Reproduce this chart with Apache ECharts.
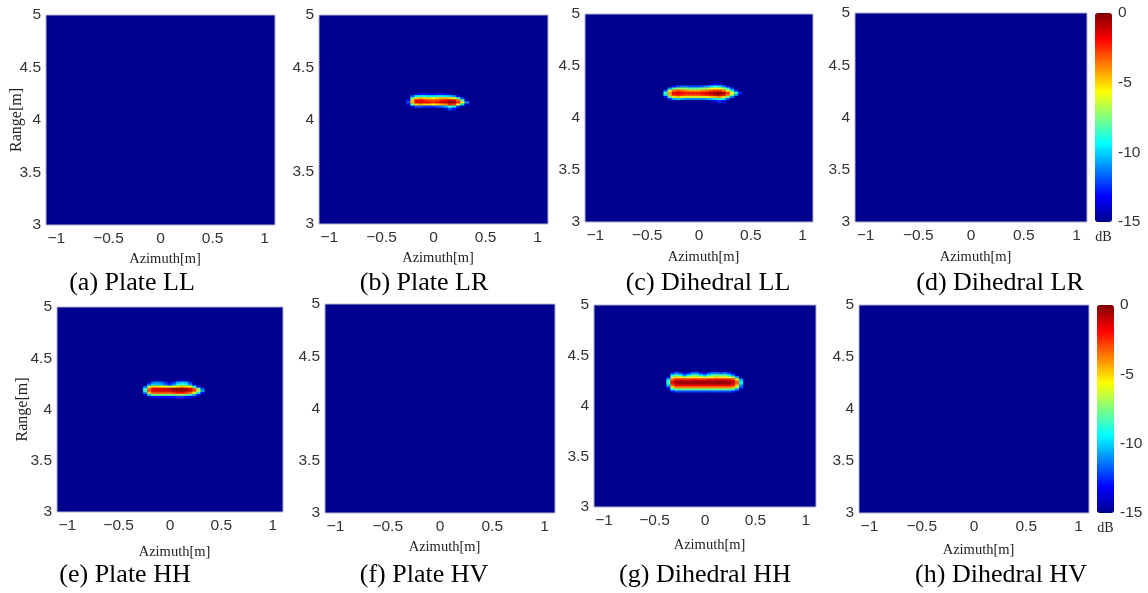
<!DOCTYPE html>
<html><head><meta charset="utf-8">
<script src="https://cdn.jsdelivr.net/npm/echarts@6/dist/echarts.min.js"></script>
<style>html,body{margin:0;padding:0;background:#fff}#c{width:1148px;height:593px}</style>
</head><body><div id="c"></div>
<script>
// ---------------- data ----------------
const azimuthTicks = [-1, -0.5, 0, 0.5, 1];
const rangeTicks = [3, 3.5, 4, 4.5, 5];
const dbTicks = [-15, -10, -5, 0];
const azimuthExtent = [-1.1, 1.1];
const rangeExtent = [3, 5];
const dbExtent = [-15, 0];
const backgroundDb = -30;

const captions = ['(a) Plate LL', '(b) Plate LR', '(c) Dihedral LL', '(d) Dihedral LR',
                  '(e) Plate HH', '(f) Plate HV', '(g) Dihedral HH', '(h) Dihedral HV'];

// (b) Plate LR
const plateLRAzimuth = [-0.24,-0.20,-0.16,-0.12,-0.08,-0.04,0.00,0.04,0.08,0.12,0.16,0.20,0.24,0.28,0.32];
const plateLRRange = [4.24,4.22,4.20,4.18,4.16,4.14,4.12,4.10];
const plateLRDb = [
  [-16,-16,-14,-13,-13,-13.5,-13.5,-13,-13,-13.5,-14,-15,-16,-16,-16],
  [-16,-12,-9.5,-9,-9,-9.5,-9.5,-9,-9,-9.5,-10,-11,-13,-15,-16],
  [-15,-8,-5,-4.5,-5,-5,-5.5,-5,-4.5,-4.5,-5,-6,-8,-12,-16],
  [-13,-5,-2,-2,-2.5,-3,-3,-3,-2.5,-2,-1,-1.5,-3.5,-8,-14],
  [-12,-4.5,-1.8,-1.5,-2,-2,-2.5,-2,-1.5,-1,-0.3,-0.5,-2.5,-6,-11],
  [-14,-8,-5,-4.5,-5,-5,-5.5,-5,-4.5,-4,-2.5,-3,-6,-10,-14],
  [-16,-13.5,-12,-12,-12.5,-12.5,-12.5,-12,-11.5,-10.5,-8.5,-9.5,-12.5,-15,-16],
  [-16,-16,-15,-15,-15,-15,-15,-15,-15,-14,-12,-13,-15,-16,-16]
];

// (c) Dihedral LL
const dihedralLLAzimuth = [-0.36,-0.32,-0.28,-0.24,-0.20,-0.16,-0.12,-0.08,-0.04,0.00,0.04,0.08,0.12,0.16,0.20,0.24,0.28,0.32,0.36,0.40,0.44];
const dihedralLLRange = [4.32,4.30,4.28,4.26,4.24,4.22,4.20,4.18,4.16];
const dihedralLLDb = [
  [-16,-16,-16,-16,-16,-16,-16,-16,-16,-16,-16,-15,-14,-13,-13.5,-15,-16,-16,-16,-16,-16],
  [-16,-16,-15,-13,-12,-11.5,-11.5,-12,-12,-12,-11.5,-11,-10,-9,-9.5,-11,-13,-15,-16,-16,-16],
  [-16,-15,-11,-8,-7,-7,-7.5,-8,-8,-8,-7.5,-7,-6,-5.5,-6,-7,-9,-12,-15,-16,-16],
  [-16,-12,-6.5,-3.5,-3,-3.5,-4,-4.5,-4.5,-4.5,-4,-3.5,-3,-2.5,-2.5,-3.5,-5.5,-9,-12.5,-15,-16],
  [-15,-8.5,-4,-1.8,-1.3,-1.8,-2.2,-2.2,-2.2,-2.2,-1.8,-1.3,-0.8,-0.4,-0.2,-0.7,-2.5,-5.5,-8.5,-12.5,-16],
  [-15,-9.5,-4.5,-2.2,-1.8,-2.2,-2.7,-2.7,-2.7,-2.7,-2.2,-1.8,-1.3,-0.8,-0.6,-1.3,-3.5,-7,-10.5,-14,-16],
  [-16,-13,-8,-5.5,-5,-5.5,-6,-6,-6,-6,-6,-5.5,-5,-4.5,-4,-5,-7.5,-11,-14.5,-16,-16],
  [-16,-15.5,-12.5,-10.5,-10,-10.5,-11,-11,-11,-11,-11,-10.5,-10,-9.5,-8.5,-9,-12,-15,-16,-16,-16],
  [-16,-16,-16,-15,-15,-15,-15,-15,-15,-15,-15,-15,-14.5,-14,-12.5,-13,-15,-16,-16,-16,-16]
];

// (e) Plate HH
const plateHHAzimuth = [-0.28,-0.24,-0.20,-0.16,-0.12,-0.08,-0.04,0.00,0.04,0.08,0.12,0.16,0.20,0.24,0.28,0.32,0.36];
const plateHHRange = [4.28,4.26,4.24,4.22,4.20,4.18,4.16,4.14,4.12];
const plateHHDb = [
  [-16,-16,-16,-15,-14.5,-15,-16,-16,-16,-14.5,-14,-14.5,-16,-16,-16,-16,-16],
  [-16,-16,-14,-11.5,-11,-11.5,-12.5,-14,-12.5,-10.5,-10,-10.5,-12.5,-15,-16,-16,-16],
  [-16,-15,-11.5,-10,-10,-10.5,-11.5,-12.5,-11,-9,-8.5,-9,-11,-14,-16,-16,-16],
  [-16,-12,-7,-5,-5,-5.5,-6,-6.5,-6,-5,-4.5,-5,-6,-9,-13,-16,-16],
  [-16,-9,-3.5,-1.8,-1.3,-1.3,-1.3,-0.9,-0.5,-0.3,-0.3,-0.5,-1.3,-3.5,-7.5,-12,-16],
  [-16,-8.5,-3,-1.3,-1.3,-1.3,-1.3,-0.9,-0.5,-0.3,-0.3,-0.5,-1.3,-2.8,-6.5,-10.5,-15],
  [-16,-11,-5,-3,-3,-3,-3,-3,-2.5,-2,-2,-2.5,-3.5,-5.5,-9,-13,-16],
  [-16,-14,-10,-7.5,-7.5,-7.5,-7.5,-7.5,-7.5,-7,-7,-7.5,-8.5,-10.5,-13,-16,-16],
  [-16,-16,-14.5,-13,-13,-13,-13,-13,-13,-12.5,-12.5,-13,-13.5,-14.5,-15.5,-16,-16]
];

// (g) Dihedral HH
const dihedralHHAzimuth = [-0.40,-0.36,-0.32,-0.28,-0.24,-0.20,-0.16,-0.12,-0.08,-0.04,0.00,0.04,0.08,0.12,0.16,0.20,0.24,0.28,0.32,0.36,0.40];
const dihedralHHRange = [4.34,4.32,4.30,4.28,4.26,4.24,4.22,4.20,4.18,4.16,4.14,4.12];
const dihedralHHDb = [
  [-16,-16,-15.5,-14.5,-15,-16,-15.5,-14.5,-14.5,-15.5,-16,-15,-14.5,-14.5,-15,-14.5,-15,-16,-16,-16,-16],
  [-16,-16,-12.5,-11,-12,-14,-12.5,-11,-11,-12.5,-14,-12,-11,-11,-11.5,-11,-12,-14,-16,-16,-16],
  [-16,-15,-9.5,-8,-9,-11,-9.5,-8,-8,-9.5,-10.5,-9,-8,-7.5,-8,-8,-9,-11,-14,-16,-16],
  [-16,-13,-6.5,-5,-5.5,-6.5,-6,-5.5,-5.5,-6,-6.5,-6,-5.5,-5,-5.5,-5.5,-6,-7,-10.5,-15,-16],
  [-16,-10,-3.5,-2.2,-2.2,-2.5,-2.5,-2.2,-2.2,-2.5,-2.5,-2.2,-2.2,-2.2,-2.2,-2.2,-2.2,-2.8,-5.5,-11,-16],
  [-15,-8.5,-2,-0.8,-0.5,-0.6,-0.6,-0.5,-0.5,-0.5,-0.6,-0.5,-0.5,-0.4,-0.4,-0.5,-0.6,-1.2,-3.5,-9.5,-15],
  [-15,-8.5,-2,-0.8,-0.5,-0.5,-0.5,-0.5,-0.5,-0.5,-0.5,-0.5,-0.5,-0.4,-0.4,-0.5,-0.6,-1.2,-3.5,-9.5,-15],
  [-16,-10,-3.5,-2,-1.8,-1.8,-1.8,-1.8,-1.8,-1.8,-1.8,-1.8,-1.8,-1.8,-1.8,-1.8,-2,-2.5,-5,-11,-16],
  [-16,-12.5,-6,-4,-4,-4,-4,-4,-4,-4,-4,-4,-4,-4,-4,-4,-4,-4.5,-7,-12,-16],
  [-16,-14.5,-9.5,-8,-8,-8,-8,-8,-8,-8,-8,-8,-8,-8,-8,-8,-8,-8.5,-11,-14.5,-16],
  [-16,-16,-13,-12,-12,-12,-12,-12,-12,-12,-12,-12,-12,-12,-12,-12,-12,-12.5,-14,-16,-16],
  [-16,-16,-15.5,-15,-15,-15,-15,-15,-15,-15,-15,-15,-15,-15,-15,-15,-15,-15.5,-16,-16,-16]
];

const panelBlobs = [
  null,
  {az: plateLRAzimuth, rg: plateLRRange, db: plateLRDb},
  {az: dihedralLLAzimuth, rg: dihedralLLRange, db: dihedralLLDb},
  null,
  {az: plateHHAzimuth, rg: plateHHRange, db: plateHHDb},
  null,
  {az: dihedralHHAzimuth, rg: dihedralHHRange, db: dihedralHHDb},
  null
];

// ---------------- layout / style ----------------
const jetColors = ['#00008F','#0000FF','#0080FF','#00FFFF','#80FF80','#FFFF00','#FF8000','#FF0000','#800000'];
const panels = [
  {left:46,  top:15,  width:229, height:210, nameGap:27, range:true, rangeGap:21, cap:[132,283]},
  {left:319, top:15,  width:229, height:209, nameGap:27, cap:[424,283]},
  {left:585, top:14,  width:228, height:208, nameGap:28, cap:[708,283]},
  {left:855, top:13,  width:232, height:209, nameGap:28, cap:[1000,283]},
  {left:57,  top:307, width:226, height:205, nameGap:33, range:true, rangeGap:26, cap:[125,575]},
  {left:325, top:304, width:230, height:209, nameGap:27, cap:[424,575]},
  {left:594, top:305, width:222, height:202, nameGap:31, cap:[705,575]},
  {left:859, top:305, width:230, height:208, nameGap:30, cap:[1001,575]}
];
const colorbars = [
  {left:1095, top:13, width:17, height:209},
  {left:1097, top:305, width:17, height:208}
];

const tickStyle = {fontFamily: "'Liberation Sans', Arial, sans-serif", fontSize: 15.5, color: '#333'};
const serif = "'Liberation Serif', 'Times New Roman', serif";
const fmt = v => (v < 0 ? '\u2212' + Math.abs(v) : String(v));
const fmtBar = v => String(v);
const clampDb = v => Math.max(dbExtent[0], Math.min(dbExtent[1], v));

function buildCells(blob) {
  const out = [[
    (azimuthExtent[0] + azimuthExtent[1]) / 2, (rangeExtent[0] + rangeExtent[1]) / 2,
    clampDb(backgroundDb), azimuthExtent[1] - azimuthExtent[0], rangeExtent[1] - rangeExtent[0]
  ]];
  if (blob) {
    const dx = Math.abs(blob.az[1] - blob.az[0]);
    const dy = Math.abs(blob.rg[1] - blob.rg[0]);
    blob.rg.forEach((r, i) => blob.az.forEach((a, j) => {
      out.push([a, r, clampDb(blob.db[i][j]), dx, dy]);
    }));
  }
  return out;
}

function renderCell(params, api) {
  const x = api.value(0), y = api.value(1), w = api.value(3), h = api.value(4);
  const p0 = api.coord([x - w / 2, y + h / 2]);
  const p1 = api.coord([x + w / 2, y - h / 2]);
  const color = api.visual('color');
  const bg = params.dataIndex === 0;
  return {
    type: 'rect',
    shape: {x: p0[0], y: p0[1], width: p1[0] - p0[0], height: p1[1] - p0[1]},
    style: {fill: color, stroke: bg ? '#b0b4cc' : color, lineWidth: bg ? 1 : 0.6}
  };
}

const grid = [], xAxis = [], yAxis = [], series = [], graphic = [];
panels.forEach((p, i) => {
  grid.push({left: p.left, top: p.top, width: p.width, height: p.height});
  xAxis.push({
    gridIndex: i, type: 'value', min: azimuthExtent[0], max: azimuthExtent[1],
    axisLine: {show: false}, axisTick: {show: false}, splitLine: {show: false},
    axisLabel: Object.assign({customValues: azimuthTicks, formatter: fmt, margin: 6}, tickStyle),
    name: 'Azimuth[m]', nameLocation: 'middle', nameGap: p.nameGap, nameMoveOverlap: false,
    nameTextStyle: {fontFamily: serif, fontSize: 14.5, color: '#222', padding: [0, 0, 0, 9]}
  });
  yAxis.push({
    gridIndex: i, type: 'value', min: rangeTicks[0], max: rangeTicks[rangeTicks.length - 1], interval: 0.5,
    axisLine: {show: false}, axisTick: {show: false}, splitLine: {show: false},
    axisLabel: Object.assign({margin: 5, formatter: fmt}, tickStyle),
    name: p.range ? 'Range[m]' : '', nameLocation: 'middle', nameGap: p.rangeGap || 20, nameRotate: 90,
    nameMoveOverlap: false,
    nameTextStyle: {fontFamily: serif, fontSize: 16, color: '#222'}
  });
  series.push({
    type: 'custom', xAxisIndex: i, yAxisIndex: i, renderItem: renderCell,
    data: buildCells(panelBlobs[i]), encode: {x: 0, y: 1}, silent: true
  });
  graphic.push({
    type: 'text', x: p.cap[0], y: p.cap[1],
    style: {text: captions[i], font: '26px ' + serif, fill: '#000',
            textAlign: 'center', textVerticalAlign: 'middle', align: 'center', verticalAlign: 'middle'}
  });
});

colorbars.forEach((c, k) => {
  const gi = grid.length;
  grid.push({left: c.left, top: c.top, width: c.width, height: c.height});
  xAxis.push({
    gridIndex: gi, type: 'value', min: 0, max: 1,
    axisLine: {show: false}, axisTick: {show: false}, axisLabel: {show: false}, splitLine: {show: false},
    name: 'dB', nameLocation: 'middle', nameGap: 8, nameMoveOverlap: false,
    nameTextStyle: {fontFamily: serif, fontSize: 14, color: '#222'}
  });
  yAxis.push({
    gridIndex: gi, type: 'value', position: 'right', min: dbTicks[0], max: dbTicks[dbTicks.length - 1], interval: 5,
    axisLine: {show: false}, axisTick: {show: false}, splitLine: {show: false},
    axisLabel: Object.assign({margin: 6, formatter: fmtBar}, tickStyle)
  });
});

const visualMap = colorbars.map((c, k) => ({
  type: 'continuous', min: dbExtent[0], max: dbExtent[1], dimension: 2,
  seriesIndex: k === 0 ? [0, 1, 2, 3] : [4, 5, 6, 7],
  orient: 'vertical', left: c.left, top: c.top, itemWidth: c.width, itemHeight: c.height,
  padding: 0, text: null, calculable: false, hoverLink: false,
  inRange: {color: jetColors}
}));

const chart = echarts.init(document.getElementById('c'), null, {renderer: 'canvas'});
chart.setOption({animation: false, grid, xAxis, yAxis, series, visualMap, graphic});
</script></body></html>
